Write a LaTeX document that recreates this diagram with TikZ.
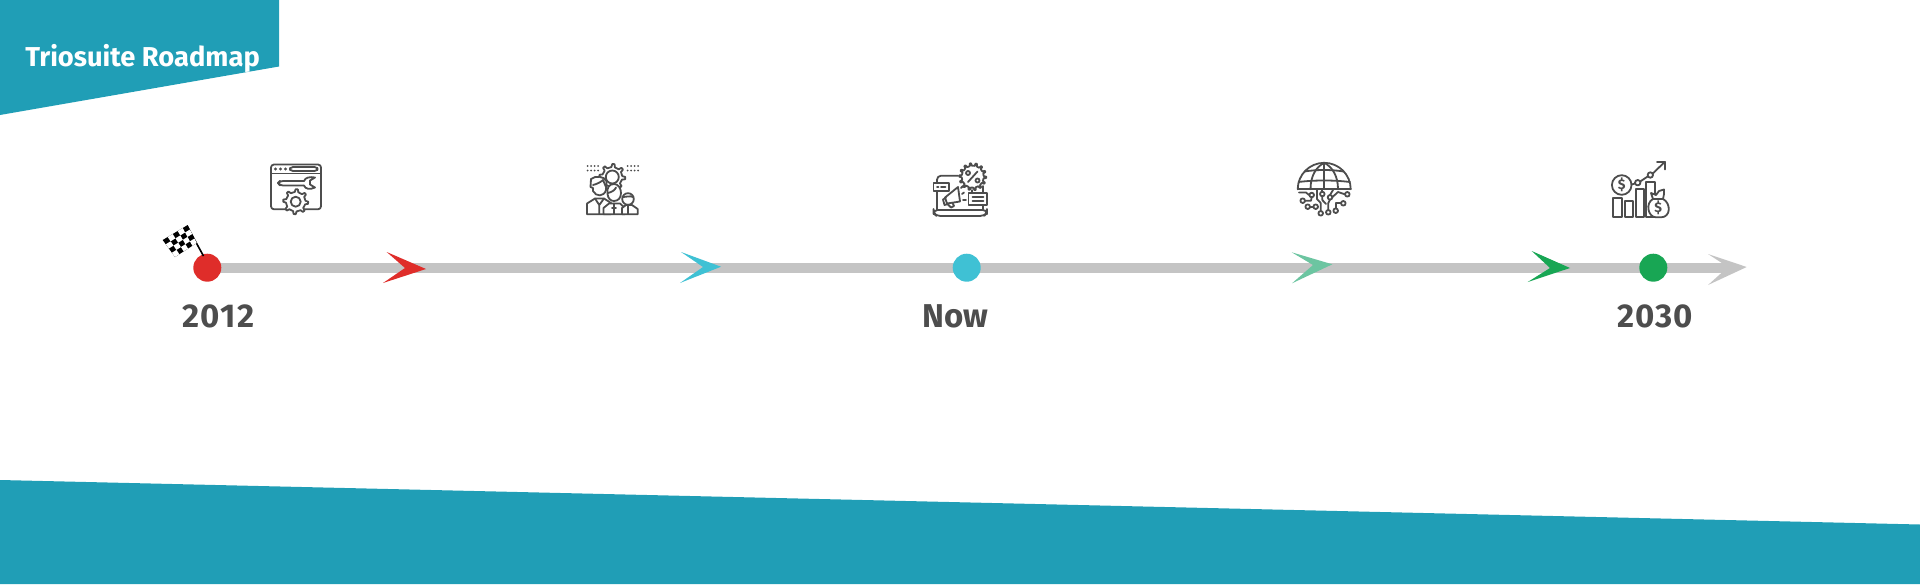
\documentclass[tikz,border=0pt]{standalone}
\usepackage{fontspec}
\setmainfont{Fira Sans}
\usetikzlibrary{backgrounds}
\definecolor{bannerteal}{HTML}{209EB6}
\definecolor{axisgray}{HTML}{C4C4C4}
\definecolor{txtgray}{HTML}{4D4D4D}
\definecolor{mkred}{HTML}{DF2D2A}
\definecolor{mkcyan}{HTML}{3FC1D4}
\definecolor{mkmint}{HTML}{6CC5A1}
\definecolor{mkgreen}{HTML}{18A654}
\newcommand{\cog}[6][white]{% fill, cx, cy, rout, rin, teeth
  \begin{scope}[shift={(#2,#3)}]
    \pgfmathsetmacro{\cogstep}{360/#6}
    \draw[ico,fill=#1] (0:#4)
      \foreach \k in {1,...,#6} {
        -- ({(\k-1)*\cogstep+.22*\cogstep}:#4) -- ({(\k-1)*\cogstep+.34*\cogstep}:#5)
        -- ({(\k-1)*\cogstep+.88*\cogstep}:#5) -- ({\k*\cogstep}:#4)
      } -- cycle;
  \end{scope}}
\newcommand{\fp}[2]{({(1-#2)*((1-#1)*162.7+#1*187.7)+#2*((1-#1)*175+#1*196.7)},{(1-#2)*((1-#1)*240+#1*225)+#2*((1-#1)*257+#1*243)})}
\tikzset{
  dot/.style={circle,inner sep=0pt,minimum size=14pt},
  yearlabel/.style={text=txtgray,font=\fontsize{16.5}{18}\selectfont\bfseries,anchor=base,inner sep=0pt},
  ico/.style={draw=txtgray,line width=.9pt,line join=round,line cap=round},
  glyph/.style={text=txtgray,inner sep=0pt,font=\fontsize{#1}{#1}\selectfont\bfseries}
}
\begin{document}
\begin{tikzpicture}[x=.5pt,y=-.5pt]
\useasboundingbox (0,0) rectangle (1920,584);
% banners
\fill[bannerteal] (0,0) -- (279,0) -- (279,66.5) -- (0,115) -- cycle;
\fill[bannerteal] (0,480) -- (1920,524.5) -- (1920,584) -- (0,584) -- cycle;
\node[text=white,anchor=base west,inner sep=0pt,font=\fontsize{13.65}{16}\selectfont\bfseries] (title) at (25,66.5) {Triosuite Roadmap};
% milestones
\node[dot,fill=mkred] (start) at (207.3,267.7) {};
\node[dot,fill=mkcyan] (now) at (966.7,267.7) {};
\node[dot,fill=mkgreen] (goal) at (1653.3,267.7) {};
\coordinate (axisend) at (1730,267.7);
\begin{scope}[on background layer]
  \draw[axisgray,line width=5pt] (start.center) -- (now.center) -- (goal.center) -- (axisend);
\end{scope}
% chevrons
\fill[axisgray] (1708,254) -- (1746.7,267) -- (1708,285) -- (1728,267) -- cycle;
\fill[mkred] (386.7,252) -- (426,269) -- (383,283) -- (405,268) -- cycle;
\fill[mkcyan] (681,252) -- (721,266.7) -- (680,283) -- (703,267) -- cycle;
\fill[mkmint] (1291.7,252.3) -- (1332.3,264.3) -- (1292,283.3) -- (1313,265) -- cycle;
\fill[mkgreen] (1531.7,251) -- (1570,268) -- (1527.7,282) -- (1550,268) -- cycle;
% labels
\node[yearlabel] (y2012) at (218.5,327) {\addfontfeature{LetterSpace=3.5}2012};
\node[yearlabel] (ynow) at (955.5,327) {Now};
\node[yearlabel] (y2030) at (1655,327) {\addfontfeature{LetterSpace=3.5}2030};
% flag
\draw[black,line width=.8pt] (187,226) -- (203.5,256);
\fill[black] \fp{0}{0} -- \fp{1}{0} -- \fp{1}{1} -- \fp{0}{1} -- cycle;
\foreach \i in {0,...,4}{\foreach \j in {0,...,3}{
  \pgfmathtruncatemacro{\prty}{mod(\i+\j,2)}
  \ifnum\prty=1
    \pgfmathsetmacro{\ua}{\i/5}\pgfmathsetmacro{\ub}{(\i+1)/5}
    \pgfmathsetmacro{\va}{\j/4}\pgfmathsetmacro{\vb}{(\j+1)/4}
    \fill[white] \fp{\ua}{\va} -- \fp{\ub}{\va} -- \fp{\ub}{\vb} -- \fp{\ua}{\vb} -- cycle;
  \fi}}
% icon 1: window, wrench, gear
\draw[ico,rounded corners=1.5pt] (271,164.5) rectangle (321,209.3);
\draw[ico] (271,173.5) -- (321,173.5);
\foreach \x in {275.5,280.5,285.5} \fill[txtgray] (\x,169) circle (1.7);
\draw[ico,rounded corners=1.5pt] (290,167) rectangle (317.5,171);
\draw[ico,rounded corners=1.5pt] (304,181) -- (280,181) -- (278,183) -- (280,185.5) -- (304,185.5);
\draw[ico] (304,181) .. controls (305,177.5) and (310,176.5) .. (315,177.5) -- (310,180.5) -- (310,184.5) -- (315,187.5) .. controls (310,190) and (305,189) .. (304,185.5);
\cog{295.7}{201.7}{12.5}{9.8}{8}
\draw[ico] (295.7,201.7) circle (5);
% icon 2: team and gear
\foreach \y in {166,170.5}{
  \foreach \x in {587.5,591,594.5,598}{\fill[txtgray] (\x,\y) circle (1);}
  \foreach \x in {627.5,631,634.5,638}{\fill[txtgray] (\x,\y) circle (1);}}
\cog{612.3}{177}{13}{10}{8}
\draw[ico] (612.3,177) circle (6.5);
\draw[ico,fill=white] (587,214.3) -- (587,203.5) -- (595,198.5) -- (604,198.5) -- (611,203) -- (611,214.3) -- cycle;
\draw[ico,fill=white] (593,188) -- (590.5,187) -- (591,179) .. controls (595,175.5) and (604,176) .. (606.5,181) -- (606,190) .. controls (604,197) and (596,197) .. (593,191) -- cycle;
\draw[ico] (593,185) .. controls (597,184) and (601,182) .. (603,180) -- (606,187);
\draw[ico] (595,198.5) -- (599.3,205) -- (604,198.5) (599.3,205) -- (599.3,214);
\draw[ico,fill=white] (603.5,214.3) -- (603.5,208) -- (609,203.5) -- (620,203.5) -- (625,208) -- (625,214.3) -- cycle;
\draw[ico,fill=white] (614,184) .. controls (609,184) and (606.5,188) .. (607.5,194) .. controls (608,199) and (611,201) .. (614,201) .. controls (618,201) and (621,198) .. (621,193) .. controls (621,188) and (618,184) .. (614,184) -- cycle;
\draw[ico] (608,193) .. controls (612,192) and (615,190) .. (616,187.5);
\draw[ico] (614,203.5) -- (614,214) (612,208) -- (616,208);
\draw[ico,fill=white] (622,214.3) -- (622,208) -- (626,205) -- (632,205) -- (637.7,209) -- (637.7,214.3) -- cycle;
\draw[ico,fill=white] (628,199) circle (5.8);
\draw[ico] (622.5,197) .. controls (626,197) and (630,195.5) .. (633,197);
\draw[ico] (628,205) -- (628,214);
% icon 3: laptop, megaphone, discount
\draw[ico,rounded corners=2pt] (958,175.7) -- (937,175.7) -- (937,210);
\draw[ico] (983,187) -- (983,210);
\draw[ico,rounded corners=2pt] (933.5,210) -- (987,210) -- (987,213) -- (984,216) -- (936.5,216) -- (933.5,213) -- cycle;
\draw[ico,fill=white] (933.5,182.7) rectangle (948.7,190.7);
\draw[ico] (937,186.7) -- (938.5,186.7) (941,186.7) -- (945.5,186.7);
\cog{972.7}{176.7}{13.5}{11}{14}
\draw[ico] (968,182) -- (977.5,171.5);
\draw[ico] (968,173) circle (2);
\draw[ico] (977.5,180.5) circle (2);
\draw[ico,fill=white] (945,197.5) -- (958,187) -- (960,201.5) -- (947,203.5) -- cycle;
\draw[ico] (946,197.5) -- (943,199.5) -- (944.5,205) -- (948,204);
\draw[ico] (947.5,204) -- (951,207.5) -- (954,206) -- (952.5,203);
\draw[ico] (962,194) -- (964,192.5) (963,200) -- (966,200) (961,188) -- (963,186);
\draw[ico,fill=white] (968.5,193.3) rectangle (987.3,205);
\draw[ico] (972.5,197) -- (983.5,197) (972.5,201) -- (983.5,201);
\draw[ico] (972,193.3) -- (972,190) (983,193.3) -- (983,186);
% icon 4: globe and circuit
\draw[ico] (1297.7,189.3) arc (180:360:26.5);
\draw[ico] (1297.7,189.3) -- (1350.7,189.3);
\draw[ico] (1324.2,162.8) -- (1324.2,189.3);
\draw[ico] (1310.5,189.3) .. controls (1310.5,176) and (1316,167) .. (1324.2,162.8) .. controls (1332.4,167) and (1338,176) .. (1338,189.3);
\draw[ico] (1298.5,182) .. controls (1314,180) and (1334,180) .. (1350,182);
\draw[ico] (1304.5,171.5) .. controls (1316,169.5) and (1332,169.5) .. (1343.5,171.5);
% circuit
\draw[ico] (1299,192.5) -- (1306,192.5) -- (1309,195);
\draw[ico] (1304.7,200.7) -- (1311,200.7) -- (1311.7,197.3);
\draw[ico] (1310,206.7) -- (1313.4,206.7);
\draw[ico] (1317,190) -- (1317,199) -- (1320.7,203) -- (1320.7,211);
\draw[ico] (1322.3,190) -- (1322.3,192);
\draw[ico] (1322.3,196) -- (1322.3,200) -- (1326,204) (1328.3,203) -- (1328.3,210) ;
\draw[ico] (1328.3,203) -- (1330,199.5);
\draw[ico] (1333,190) -- (1330,195);
\draw[ico] (1332.5,197) -- (1338,192) -- (1345,194.3);
\draw[ico] (1335.7,208.5) -- (1335.7,203.3) -- (1341,203.3);
\foreach \x/\y in {1311.7/195,1302.7/200.7,1307.7/206.7,1315.7/206.7,1320.7/213.3,1328.3/212.3,1335.7/210.7,1343.3/203.3,1347.3/194.3,1322.3/194,1330/197.3}
  \draw[ico] (\x,\y) circle (2.3);
% icon 5: growth and money
\draw[ico] (1613.3,197.7) rectangle (1622.3,217.3);
\draw[ico] (1624.7,200.7) rectangle (1633.3,217.3);
\draw[ico] (1635.7,189.3) rectangle (1644,217.3);
\draw[ico] (1646.3,181.7) rectangle (1655,217.3);
\draw[ico,fill=white] (1621.7,185) circle (9.8);
\node[glyph=7] (coin) at (1621.7,185) {\$};
\draw[ico] (1631.5,184.5) -- (1635,183.5) (1640.2,181.5) -- (1648,176.3) (1652.7,173.5) -- (1665,161.7);
\draw[ico,fill=white] (1637.7,182.7) circle (2.7);
\draw[ico,fill=white] (1650.3,175) circle (2.7);
\draw[ico] (1657,161.7) -- (1665,161.7) -- (1665,169.5);
\draw[ico,fill=white] (1653,199) .. controls (1645,203) and (1648,217.3) .. (1656,217.3) -- (1661,217.3) .. controls (1671,217.3) and (1671,203) .. (1663,199) -- cycle;
\draw[ico,fill=white] (1653,199) -- (1651,193) -- (1656,195) -- (1659,191) -- (1664,189.5) -- (1664,194) -- (1663,199) -- cycle;
\node[glyph=7] (bag) at (1658.3,208) {\$};
\end{tikzpicture}
\end{document}
